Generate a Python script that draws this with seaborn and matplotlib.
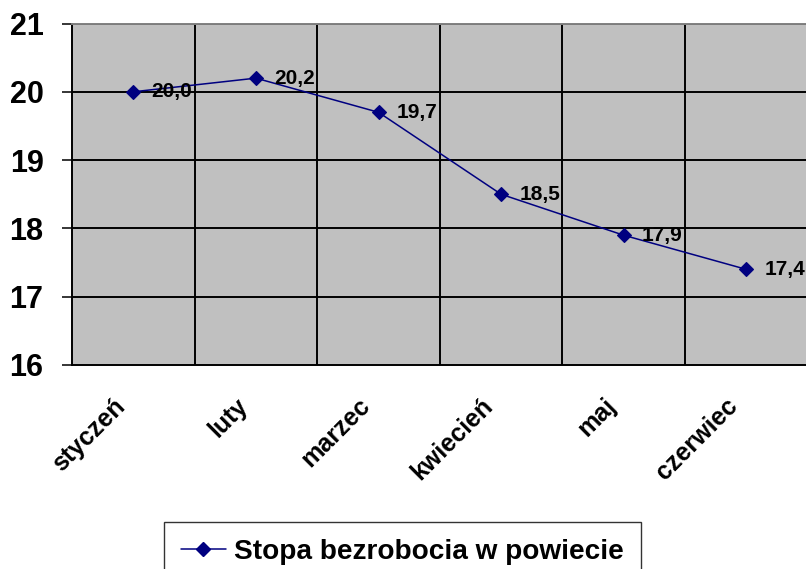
import matplotlib
matplotlib.use("Agg")
import matplotlib.pyplot as plt
import matplotlib.transforms as mtransforms
import seaborn as sns
import numpy as np
from matplotlib.ticker import FixedLocator
from matplotlib.lines import Line2D

months = ["styczeń", "luty", "marzec", "kwiecień", "maj", "czerwiec"]
values = [20.0, 20.2, 19.7, 18.5, 17.9, 17.4]
series_name = "Stopa bezrobocia w powiecie"
y_ticks = [16, 17, 18, 19, 20, 21]

sns.set_theme(style="white")
plt.rcParams['font.family'] = ['Liberation Sans', 'DejaVu Sans']
plt.rcParams['font.weight'] = 'bold'
plt.rcParams['text.color'] = 'black'
plt.rcParams['xtick.color'] = 'black'
plt.rcParams['ytick.color'] = 'black'
plt.rcParams['axes.labelcolor'] = 'black'

line_color = "#000080"

fig = plt.figure(figsize=(8.06, 5.69), dpi=100)
ax = fig.add_axes([72 / 806, 1 - 365 / 569, 735.6 / 806, 341.5 / 569])
ax.set_facecolor("#C0C0C0")

sns.pointplot(x=months, y=values, ax=ax, color=line_color, markers="D",
              linestyles="-", markersize=7.5, linewidth=1.1, errorbar=None)

ax.set_xlim(-0.5, len(months) - 0.5)
ax.set_ylim(y_ticks[0], y_ticks[-1])
ax.set_yticks(y_ticks)
ax.set_yticklabels([str(t) for t in y_ticks], fontsize=22, fontweight='bold', color='black')

# category labels drawn as rotated texts below the axis
ax.set_xticks(range(len(months)))
ax.set_xticklabels([])
blend = mtransforms.blended_transform_factory(ax.transData, ax.transAxes)
offset = mtransforms.ScaledTranslation(-12 / 100, -37.5 / 100, fig.dpi_scale_trans)
for i, m in enumerate(months):
    ax.text(i, 0, m, transform=blend + offset, rotation=45, ha='right', va='center',
            rotation_mode='anchor', fontsize=18, fontweight='bold', color='black',
            clip_on=False)

ax.xaxis.set_minor_locator(FixedLocator(np.arange(-0.5, len(months), 1.0)))
ax.tick_params(axis='x', which='major', length=0)
ax.tick_params(axis='x', which='minor', length=5, width=1.1, color='black', direction='out')
ax.tick_params(axis='y', which='major', length=7, width=1.1, color='black',
               direction='out', pad=13.5, left=True)

ax.grid(False)
for t in y_ticks[1:]:
    ax.axhline(t, color='black', lw=1.4, zorder=0.5)
for b in np.arange(0.5, len(months) - 0.5, 1.0):
    ax.axvline(b, color='black', lw=1.4, zorder=0.5)

for s in ['left', 'bottom']:
    ax.spines[s].set_color('black')
    ax.spines[s].set_linewidth(1.4)
ax.spines['top'].set_color('#808080')
ax.spines['top'].set_linewidth(1.4)
ax.spines['right'].set_visible(False)

for i, v in enumerate(values):
    ax.annotate(f"{v:.1f}".replace('.', ','), (i, v), xytext=(13, 0),
                textcoords='offset points', ha='left', va='center',
                fontsize=15, fontweight='bold', color='black', zorder=5)

ax.set_xlabel("")
ax.set_ylabel("")

handle = Line2D([0], [0], color=line_color, marker='D', markersize=7.5, lw=1.1)
leg = fig.legend([handle], [series_name], loc='upper left',
                 bbox_to_anchor=(164 / 806, 1 - 522 / 569),
                 prop={'family': 'Liberation Sans', 'weight': 'bold', 'size': 20.2},
                 frameon=True, fancybox=False, edgecolor='black', borderpad=0.6,
                 handlelength=1.6, handletextpad=0.3, borderaxespad=0)
leg.get_frame().set_linewidth(1.0)
for txt in leg.get_texts():
    txt.set_color('black')

fig.savefig("out.png", dpi=100)
